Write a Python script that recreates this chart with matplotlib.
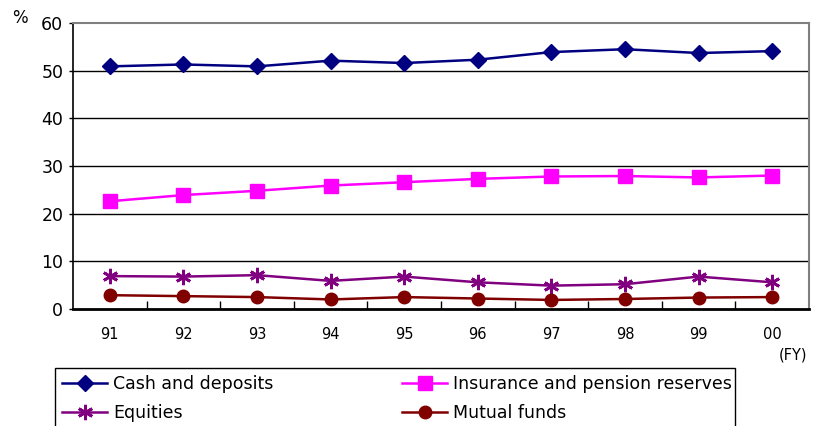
import matplotlib
matplotlib.use("Agg")
import matplotlib.pyplot as plt
from matplotlib.lines import Line2D
from matplotlib.patches import Rectangle

years = ["91", "92", "93", "94", "95", "96", "97", "98", "99", "00"]
cash = [50.9, 51.3, 50.9, 52.1, 51.6, 52.3, 53.9, 54.5, 53.7, 54.1]
insurance = [22.6, 23.9, 24.8, 25.9, 26.6, 27.3, 27.8, 27.9, 27.6, 28.0]
equities = [6.9, 6.8, 7.1, 5.9, 6.8, 5.6, 4.9, 5.2, 6.8, 5.6]
mutual = [2.9, 2.7, 2.5, 2.0, 2.5, 2.2, 1.9, 2.1, 2.4, 2.5]
labels = ["Cash and deposits", "Insurance and pension reserves", "Equities", "Mutual funds"]

plt.rcParams["font.family"] = ["DejaVu Sans"]

W, H = 815, 426
fig = plt.figure(figsize=(W / 100, H / 100), dpi=100)
ax = fig.add_axes([73 / W, 1 - 309 / H, (809 - 73) / W, (309 - 23) / H])

x = list(range(len(years)))
series = [
    (cash, "#000080", "D", 8.5, 1.0),
    (insurance, "#FF00FF", "s", 10, 1.0),
    (equities, "#800080", (6, 2, 0), 11, 2.0),
    (mutual, "#800000", "o", 9, 1.0),
]
handles = []
for vals, col, mk, ms, mew in series:
    h, = ax.plot(x, vals, color=col, lw=1.8, marker=mk, markersize=ms,
                 markeredgewidth=mew, markeredgecolor=col, markerfacecolor=col,
                 zorder=3)
    handles.append(h)

ax.set_xlim(-0.5, len(years) - 0.5)
ax.set_ylim(0, 60)
ax.set_yticks(range(0, 61, 10))
for yv in range(10, 51, 10):
    ax.axhline(yv, color="black", lw=1.0, zorder=1)

ax.set_xticks([i + 0.5 for i in range(len(years) - 1)])
ax.set_xticklabels([])
ax.set_xticks(x, minor=True)
ax.set_xticklabels(years, minor=True, fontsize=10.5)
ax.tick_params(axis="x", which="major", direction="in", length=6, width=1, color="black")
ax.tick_params(axis="x", which="minor", length=0, pad=13)
ax.tick_params(axis="y", direction="out", length=3, width=1, labelsize=12.5, pad=4)

for side in ("left", "bottom"):
    ax.spines[side].set_color("black")
ax.spines["left"].set_linewidth(1.2)
ax.spines["bottom"].set_linewidth(2.0)
for side in ("top", "right"):
    ax.spines[side].set_color("#808080")
    ax.spines[side].set_linewidth(1.5)

fig.text(12 / W, 1 - 18 / H, "%", fontsize=12, va="center", ha="left")
fig.text(793 / W, 1 - 355 / H, "(FY)", fontsize=10.5, va="center", ha="center")


def legend_handle(h):
    return Line2D([], [], color=h.get_color(), lw=1.8, marker=h.get_marker(),
                  markersize=h.get_markersize(), markeredgewidth=h.get_markeredgewidth(),
                  markerfacecolor=h.get_color(), markeredgecolor=h.get_color())


# Legend box, running off the lower edge of the figure
box_top = H - 368
fig.add_artist(Rectangle((55 / W, -20 / H), (735 - 55) / W, (box_top + 20) / H,
                         transform=fig.transFigure, fill=False, edgecolor="black",
                         lw=1.0, clip_on=False))

legend_kw = dict(frameon=False, fontsize=12.5, handlelength=2.6, handletextpad=0.35,
                 borderpad=0.3, labelspacing=0.6, borderaxespad=0, loc="upper left")
leg1 = fig.legend([legend_handle(handles[0]), legend_handle(handles[2])],
                  [labels[0], labels[2]],
                  bbox_to_anchor=(57 / W, 1 - 370 / H), **legend_kw)
fig.legend([legend_handle(handles[1]), legend_handle(handles[3])],
           [labels[1], labels[3]],
           bbox_to_anchor=(397 / W, 1 - 370 / H), **legend_kw)

fig.savefig("out.png", dpi=100)
